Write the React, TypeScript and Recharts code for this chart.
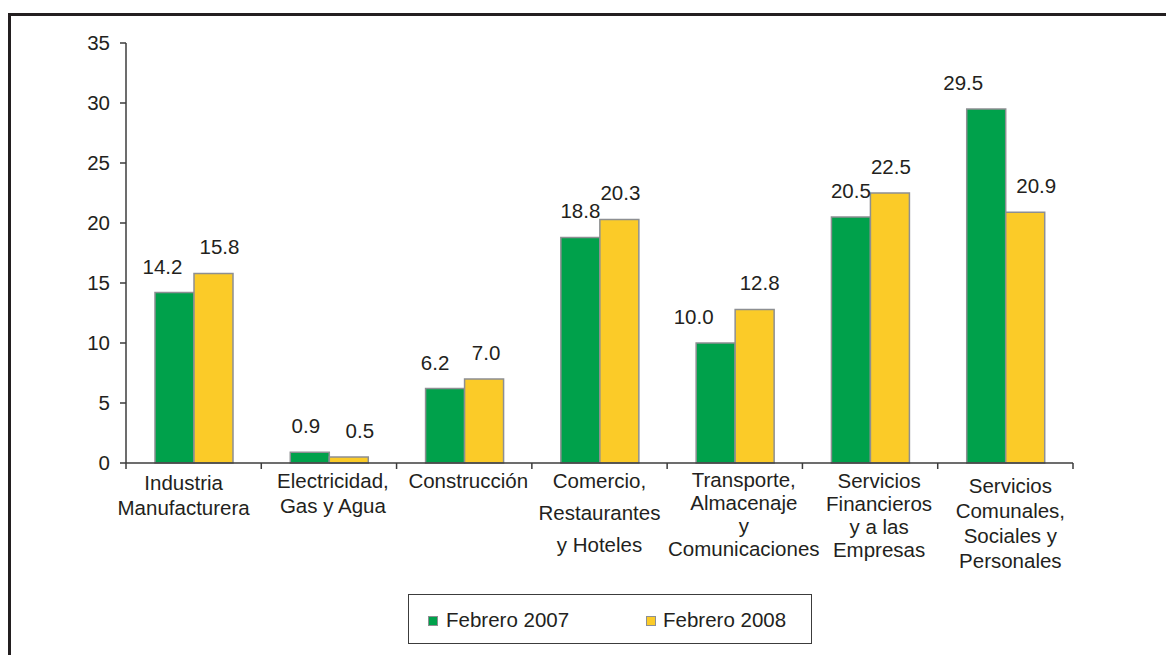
import React from 'react';
import { BarChart, Bar, XAxis, YAxis, LabelList } from 'recharts';

const categoryLines: string[][] = [
  ['Industria', 'Manufacturera'],
  ['Electricidad,', 'Gas y Agua'],
  ['Construcción'],
  ['Comercio,', 'Restaurantes', 'y Hoteles'],
  ['Transporte,', 'Almacenaje', 'y', 'Comunicaciones'],
  ['Servicios', 'Financieros', 'y a las', 'Empresas'],
  ['Servicios', 'Comunales,', 'Sociales y', 'Personales'],
];
const categories = categoryLines.map((l) => l.join(' '));
const febrero2007 = [14.2, 0.9, 6.2, 18.8, 10.0, 20.5, 29.5];
const febrero2008 = [15.8, 0.5, 7.0, 20.3, 12.8, 22.5, 20.9];
const seriesNames = ['Febrero 2007', 'Febrero 2008'];
const yTicks = [0, 5, 10, 15, 20, 25, 30, 35];

const data = categories.map((c, i) => ({
  category: c,
  f2007: febrero2007[i],
  f2008: febrero2008[i],
}));

// layout / style constants
const W = 1166;
const H = 655;
const MARGIN = { top: 43, right: 93, bottom: 162, left: 66 };
const Y_AXIS_W = 60;
const X_AXIS_H = 30;
const PLOT_LEFT = MARGIN.left + Y_AXIS_W;
const PLOT_W = W - PLOT_LEFT - MARGIN.right;
const PLOT_BOTTOM = H - MARGIN.bottom - X_AXIS_H;
const BAND = PLOT_W / categories.length;
const FONT = '"Liberation Sans", Arial, Helvetica, sans-serif';
const FS = 20.5;
const TEXT = '#231f20';
const AXIS = '#3c3c3c';
const GREEN = '#00a14b';
const YELLOW = '#fbcb28';
const BAR_STROKE = '#8d8f92';
const LABEL_OFFSET = 19;
// per-category text placement (layout only)
const tickDx = [-10, 4, 4, 0, 9, 9, 5];
const firstBaseline = [27, 25, 25, 25, 24, 25, 30];
const lineGap = [25, 25, 25, 32, 23, 23, 25];
const labelDx2007 = [-12, -4, -10, 0, -22, 0, -23];
const labelDx2008 = [6, 11, 2, 1, 5, 1, 11];

function CategoryTick(props: any) {
  const { x, payload } = props;
  const idx = categories.indexOf(payload.value);
  const lines = categoryLines[idx] || [];
  const isLast = idx === categories.length - 1;
  return (
    <g>
      <line x1={x - BAND / 2} x2={x - BAND / 2} y1={PLOT_BOTTOM} y2={PLOT_BOTTOM + 6} stroke={AXIS} strokeWidth={1.5} />
      {isLast && (
        <line x1={x + BAND / 2} x2={x + BAND / 2} y1={PLOT_BOTTOM} y2={PLOT_BOTTOM + 6} stroke={AXIS} strokeWidth={1.5} />
      )}
      {lines.map((ln, i) => (
        <text
          key={i}
          x={x + (tickDx[idx] || 0)}
          y={PLOT_BOTTOM + firstBaseline[idx] + i * lineGap[idx]}
          textAnchor="middle"
          fontFamily={FONT}
          fontSize={FS}
          fill={TEXT}
        >
          {ln}
        </text>
      ))}
    </g>
  );
}

const makeLabel = (nudges: number[]) => (props: any) => {
  const { x, y, width, value, index } = props;
  return (
    <text
      x={Number(x) + Number(width) / 2 + (nudges[index] || 0)}
      y={Number(y) - LABEL_OFFSET}
      textAnchor="middle"
      fontFamily={FONT}
      fontSize={FS}
      fill={TEXT}
    >
      {Number(value).toFixed(1)}
    </text>
  );
};

function LegendSwatch({ color, left }: { color: string; left: number }) {
  return (
    <span
      style={{
        position: 'absolute',
        left,
        top: 21,
        width: 8,
        height: 8,
        background: color,
        border: `1.5px solid ${BAR_STROKE}`,
      }}
    />
  );
}

export default function App() {
  return (
    <div style={{ position: 'absolute', left: 0, top: 0, width: W, height: H, background: '#fff', overflow: 'hidden' }}>
      <div
        style={{
          position: 'absolute',
          left: 8,
          top: 13,
          width: W,
          height: H,
          borderTop: '3px solid #231f20',
          borderLeft: '3px solid #231f20',
        }}
      />
      <div style={{ position: 'absolute', left: 0, top: 0 }}>
        <BarChart width={W} height={H} data={data} margin={MARGIN} barCategoryGap={29} barGap={0}>
          <YAxis
            width={Y_AXIS_W}
            domain={[0, 35]}
            ticks={yTicks}
            interval={0}
            tickSize={6}
            tickMargin={10}
            axisLine={{ stroke: AXIS, strokeWidth: 1.5 }}
            tickLine={{ stroke: AXIS, strokeWidth: 1.5 }}
            tick={{ fontFamily: FONT, fontSize: FS, fill: TEXT }}
          />
          <XAxis
            dataKey="category"
            height={X_AXIS_H}
            interval={0}
            tickLine={false}
            axisLine={{ stroke: AXIS, strokeWidth: 1.5 }}
            tick={<CategoryTick />}
          />
          <Bar dataKey="f2007" name={seriesNames[0]} fill={GREEN} stroke={BAR_STROKE} strokeWidth={1.5} isAnimationActive={false}>
            <LabelList dataKey="f2007" content={makeLabel(labelDx2007)} />
          </Bar>
          <Bar dataKey="f2008" name={seriesNames[1]} fill={YELLOW} stroke={BAR_STROKE} strokeWidth={1.5} isAnimationActive={false}>
            <LabelList dataKey="f2008" content={makeLabel(labelDx2008)} />
          </Bar>
        </BarChart>
      </div>
      <div
        style={{
          position: 'absolute',
          left: 408,
          top: 594,
          width: 402,
          height: 48,
          border: '1.5px solid #3c3c3c',
          fontFamily: FONT,
          fontSize: FS,
          color: TEXT,
          lineHeight: 1,
        }}
      >
        <LegendSwatch color={GREEN} left={19} />
        <span style={{ position: 'absolute', left: 37, top: 15 }}>{seriesNames[0]}</span>
        <LegendSwatch color={YELLOW} left={237} />
        <span style={{ position: 'absolute', left: 254, top: 15 }}>{seriesNames[1]}</span>
      </div>
    </div>
  );
}
